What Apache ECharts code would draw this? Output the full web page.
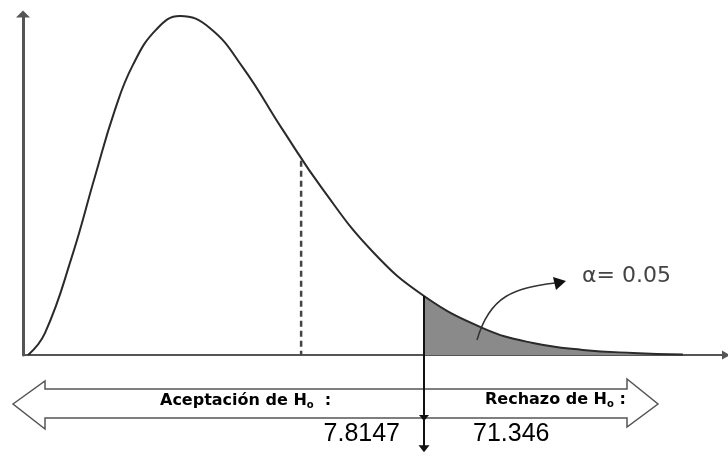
<!DOCTYPE html>
<html>
<head>
<meta charset="utf-8">
<script src="https://cdn.jsdelivr.net/npm/echarts@6/dist/echarts.min.js"></script>
<style>
  html, body { margin: 0; background: #fff; }
  #chart { width: 728px; height: 456px; }
</style>
</head>
<body>
<div id="chart"></div>
<script>
// curva de densidad (x en unidades de chi2, y en % de la altura)
const curveX = [0.1, 0.43, 0.95, 1.40, 1.79, 2.14, 2.60, 3.06, 3.64, 4.29, 5.05, 5.85, 6.82, 7.8147, 8.96, 9.94, 10.91, 11.89, 12.86]
const curveY = [0, 6.5, 28.7, 52.2, 71.8, 85.0, 95.5, 99.4, 95.9, 84.2, 66.3, 48.4, 30.2, 17.3, 7.9, 3.5, 1.5, 0.6, 0.15]

const critical = 7.8147 // valor critico
const statValue = '71.346' // estadistico calculado
const dashedX = 5.42
const dashedTop = 57.0
const alphaText = 'α= 0.05'

const curve = curveX.map((x, i) => [x, curveY[i]])
const tail = curve.filter(p => p[0] >= critical)

const chart = echarts.init(document.getElementById('chart'))

const axisStyle = { color: '#555', width: 2 }

chart.setOption({
  animation: false,
  grid: { left: 23, right: 2, top: 14, bottom: 101 },
  xAxis: {
    type: 'value',
    min: 0,
    max: 13.7,
    axisLine: { show: true, onZero: false, symbol: ['none', 'triangle'], symbolSize: [9, 8], lineStyle: axisStyle },
    axisTick: { show: false },
    axisLabel: { show: false },
    splitLine: { show: false }
  },
  yAxis: {
    type: 'value',
    min: 0,
    max: 100,
    axisLine: { show: true, onZero: false, symbol: ['none', 'triangle'], symbolSize: [14, 7], lineStyle: { color: '#555', width: 3 } },
    axisTick: { show: false },
    axisLabel: { show: false },
    splitLine: { show: false }
  },
  series: [
    {
      // zona de rechazo sombreada
      type: 'line',
      data: tail,
      smooth: 0.45,
      symbol: 'none',
      lineStyle: { width: 0 },
      areaStyle: { color: '#8a8a8a', opacity: 1 },
      z: 1
    },
    {
      type: 'line',
      data: curve,
      smooth: 0.45,
      symbol: 'none',
      lineStyle: { color: '#2a2a2a', width: 2 },
      z: 3
    },
    {
      // linea punteada
      type: 'line',
      data: [[dashedX, dashedTop], [dashedX, 0]],
      symbol: 'none',
      lineStyle: { color: '#444', width: 2.5, type: [6, 4] },
      z: 2
    },
    {
      // linea del valor critico, baja por debajo del eje
      type: 'line',
      clip: false,
      data: [
        { value: [critical, 17.3], symbol: 'none' },
        { value: [critical, -18.5], symbol: 'triangle', symbolSize: [10, 6], symbolRotate: 180 },
        { value: [critical, -27.5], symbol: 'triangle', symbolSize: [11, 7], symbolRotate: 180 }
      ],
      showSymbol: true,
      itemStyle: { color: '#111' },
      lineStyle: { color: '#111', width: 2 },
      z: 4
    }
  ]
})

const c = chart.convertToPixel({ xAxisIndex: 0, yAxisIndex: 0 }, [critical, 0])
const cx = c[0]

// flecha doble
const yMid = 404
const arrowPts = [
  [13, yMid], [45, yMid - 23], [45, yMid - 15], [627, yMid - 15], [627, yMid - 25],
  [658, yMid], [627, yMid + 23], [627, yMid + 14], [45, yMid + 14], [45, yMid + 25]
]

const labelFont = 'DejaVu Sans'
const hRich = {
  a: { fontFamily: labelFont, fontSize: 16, color: '#404040', fontWeight: 'bold' },
  s: { fontFamily: labelFont, fontSize: 10, color: '#404040', fontWeight: 'bold', padding: [8, 0, 0, 0] }
}

chart.setOption({
  graphic: [
    {
      type: 'polygon',
      shape: { points: arrowPts },
      style: { fill: 'none', stroke: '#555', lineWidth: 1.5 },
      z: 1
    },
    {
      type: 'text',
      x: 160, y: yMid - 12,
      style: { text: '{a|Aceptación de H}{s|o}{a|  :}', rich: hRich }
    },
    {
      type: 'text',
      x: 485, y: yMid - 13,
      style: { text: '{a|Rechazo de H}{s|o}{a| :}', rich: hRich }
    },
    {
      type: 'text',
      x: cx - 24, y: 434,
      style: { text: critical.toFixed(4), font: '25px "Liberation Sans"', fill: '#000', align: 'right', verticalAlign: 'middle' }
    },
    {
      type: 'text',
      x: cx + 49, y: 434,
      style: { text: statValue, font: '25px "Liberation Sans"', fill: '#000', align: 'left', verticalAlign: 'middle' }
    },
    {
      type: 'text',
      x: 582, y: 276,
      style: { text: alphaText, font: '22px "DejaVu Sans"', fill: '#444', align: 'left', verticalAlign: 'middle' }
    },
    {
      type: 'bezierCurve',
      shape: { x1: 477, y1: 340, x2: 555, y2: 283, cpx1: 490, cpy1: 295, cpx2: 515, cpy2: 288 },
      style: { stroke: '#333', lineWidth: 1.5, fill: 'none' },
      z: 10
    },
    {
      type: 'polygon',
      shape: { points: [[566, 281], [553, 277], [556, 290]] },
      style: { fill: '#111' },
      z: 10
    }
  ]
})
</script>
</body>
</html>
